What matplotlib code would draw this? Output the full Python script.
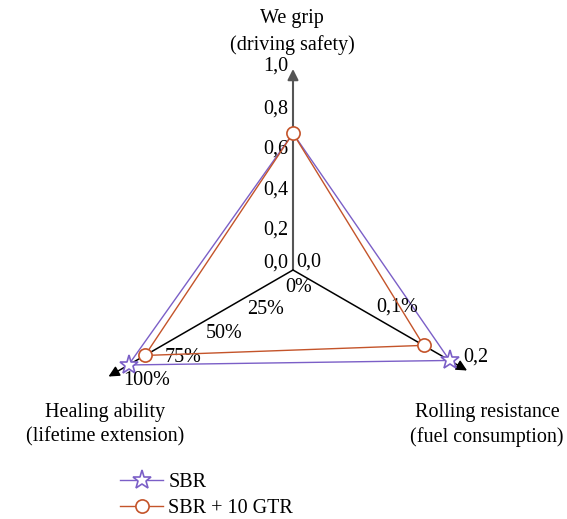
import numpy as np
import matplotlib.pyplot as plt

# --------------------------------------------------
# data
# --------------------------------------------------
series_names = ["SBR", "SBR + 10 GTR"]
wet_grip = [0.68, 0.68]            # up axis, 0..1
rolling_res = [0.18, 0.15]         # right axis, 0..0.2
healing = [100, 90]                # left axis, %

grip_ticks = [0.0, 0.2, 0.4, 0.6, 0.8, 1.0]
grip_labels = ["0,0", "0,2", "0,4", "0,6", "0,8", "1,0"]
rr_ticks = [0.0, 0.1, 0.2]
rr_labels = ["0,0", "0,1%", "0,2"]
heal_ticks = [25, 50, 75, 100]
heal_labels = ["25%", "50%", "75%", "100%"]

colors = ["#7b5fc7", "#c4542a"]

# --------------------------------------------------
# geometry (1 unit = 201 px, centre at pixel 293, 270)
# --------------------------------------------------
W, H = 567, 519
S = 201.0
cx, cy = 293, 270
d_up = np.array([0.0, 1.0])
d_right = np.array([np.cos(np.radians(-30)), np.sin(np.radians(-30))])
d_left = np.array([np.cos(np.radians(210)), np.sin(np.radians(210))])

rr_full = 0.2    # value at radius 1.0 on right axis
heal_full = 100 / 0.945  # value at radius 1.0 on left axis


def px(dx, dy):
    # pixel offset -> data units
    return np.array([dx / S, -dy / S])


fig = plt.figure(figsize=(W / 100, H / 100), dpi=100)
ax = fig.add_axes([0, 0, 1, 1])
ax.set_xlim(-cx / S, (W - cx) / S)
ax.set_ylim(-(H - cy) / S, cy / S)
ax.axis("off")

fs = 14.5
font = dict(family="Liberation Serif", fontsize=fs)

# axes with arrows
ax.annotate("", xy=d_up * 1.0, xytext=(0, 0),
            arrowprops=dict(arrowstyle="-|>", color="#555555", lw=1.5,
                            mutation_scale=16, shrinkA=0, shrinkB=0))
ax.annotate("", xy=d_right * 1.0, xytext=(0, 0),
            arrowprops=dict(arrowstyle="-|>", color="black", lw=1.1,
                            mutation_scale=16, shrinkA=0, shrinkB=0))
ax.annotate("", xy=d_left * 1.06, xytext=(0, 0),
            arrowprops=dict(arrowstyle="-|>", color="black", lw=1.1,
                            mutation_scale=16, shrinkA=0, shrinkB=0))

# series polygons
markers = ["*", "o"]
msizes = [14, 9.5]
handles = []
for i in range(2):
    p_up = d_up * wet_grip[i]
    p_r = d_right * rolling_res[i] / rr_full
    p_l = d_left * healing[i] / heal_full
    pts = np.array([p_up, p_r, p_l, p_up])
    mev = [1, 2] if i == 0 else [0, 1, 2]
    h, = ax.plot(pts[:, 0], pts[:, 1], color=colors[i], lw=1.0,
                 marker=markers[i], markersize=msizes[i], mfc="white",
                 mec=colors[i], mew=1.2, markevery=mev,
                 label=series_names[i], zorder=3 + i)
    handles.append(h)

# tick labels on up axis
for v, lab in zip(grip_ticks, grip_labels):
    p = d_up * v + px(-5, -3 if v == 1.0 else 0)
    if v == 0.0:
        p = d_up * v + px(-5, -7)
    ax.text(p[0], p[1], lab, ha="right", va="center", **font)

# tick labels on right axis
for v, lab in zip(rr_ticks, rr_labels):
    if v == 0.0:
        p = px(3, -8)
    else:
        p = d_right * v / rr_full + px(-4, -13)
    ax.text(p[0], p[1], lab, ha="left", va="center", **font)

# tick labels on left axis
p0 = px(6, 17)
ax.text(p0[0], p0[1], "0%", ha="center", va="center", **font)
for v, lab in zip(heal_ticks, heal_labels):
    p = d_left * v / heal_full + px(-5, 16)
    ax.text(p[0], p[1], lab, ha="left", va="center", **font)

# axis titles
fig.text(292 / W, 1 - 19 / H, "We grip", ha="center", va="center", **font)
fig.text(292 / W, 1 - 45 / H, "(driving safety)", ha="center", va="center", **font)
fig.text(105 / W, 1 - 412 / H, "Healing ability", ha="center", va="center", **font)
fig.text(105 / W, 1 - 437 / H, "(lifetime extension)", ha="center", va="center", **font)
fig.text(487 / W, 1 - 412 / H, "Rolling resistance", ha="center", va="center", **font)
fig.text(487 / W, 1 - 437 / H, "(fuel consumption)", ha="center", va="center", **font)

fig.legend(handles=handles, loc="upper left",
           bbox_to_anchor=(120 / W, 1 - 473 / H), frameon=False,
           borderaxespad=0, borderpad=0, handlelength=2.15,
           handletextpad=0.25, labelspacing=0.35,
           prop=dict(family="Liberation Serif", size=fs))

fig.savefig("out.png", dpi=100)
